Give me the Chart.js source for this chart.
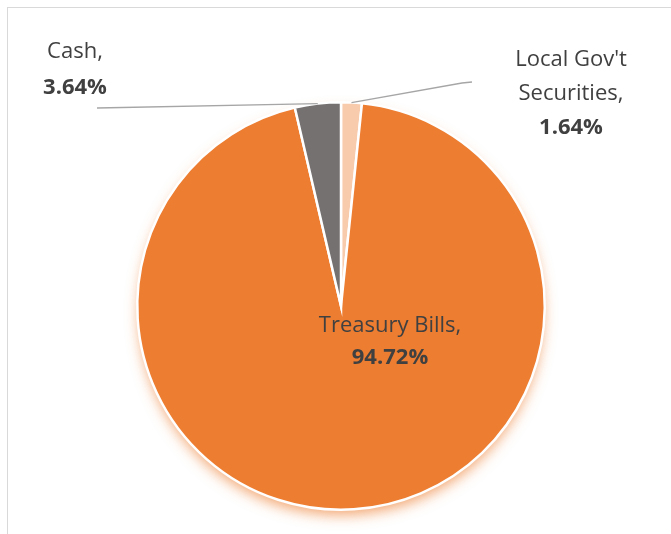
<!DOCTYPE html>
<html><head><meta charset="utf-8">
<script src="https://cdn.jsdelivr.net/npm/chart.js@4/dist/chart.umd.min.js"></script>
<style>
html,body{margin:0;padding:0;background:#fff;}
#wrap{position:relative;width:671px;height:534px;}
#frame{position:absolute;left:7px;top:7px;width:700px;height:600px;border:1px solid #D9D9D9;box-sizing:border-box;}
canvas{position:absolute;left:0;top:0;}
</style></head>
<body><div id="wrap"><div id="frame"></div><canvas id="c" width="671" height="534"></canvas></div>
<script>
const categories = ["Local Gov't Securities", "Treasury Bills", "Cash"];
const labelLines = [["Local Gov't", "Securities,"], ["Treasury Bills,"], ["Cash,"]];
const percentLabels = ["1.64%", "94.72%", "3.64%"];
const values = [1.64, 94.72, 3.64];
const colors = ["#F8CBAD", "#ED7D31", "#767171"];

const FONT = "'Open Sans', 'Noto Sans', sans-serif";
const TEXT = "#404040";

const shadowPlugin = {
  id: 'shadow',
  beforeDatasetsDraw(chart) {
    const arc = chart.getDatasetMeta(0).data[0];
    const ctx = chart.ctx;
    ctx.save();
    ctx.beginPath();
    ctx.arc(arc.x, arc.y, arc.outerRadius - 2, 0, Math.PI * 2);
    ctx.fillStyle = 'rgba(237,125,49,1)';
    ctx.shadowColor = 'rgba(237,125,49,0.7)';
    ctx.shadowBlur = 14;
    ctx.shadowOffsetY = 7;
    ctx.fill();
    ctx.restore();
  }
};

const labelLayout = [
  {x: 571, y: 60, step: 34, line: [[462, 83], [472, 82]]},
  {x: 390, y: 326, step: 32},
  {x: 75, y: 52, step: 36, line: [[97, 108]]}
];

const labelPlugin = {
  id: 'labels',
  afterDatasetsDraw(chart) {
    const ctx = chart.ctx;
    const meta = chart.getDatasetMeta(0);
    ctx.save();
    meta.data.forEach((arc, i) => {
      const L = labelLayout[i];
      const mid = (arc.startAngle + arc.endAngle) / 2;
      const ax = arc.x + Math.cos(mid) * arc.outerRadius;
      const ay = arc.y + Math.sin(mid) * arc.outerRadius;
      if (L.line) {
        ctx.strokeStyle = '#A6A6A6';
        ctx.lineWidth = 1.3;
        ctx.beginPath();
        ctx.moveTo(ax, ay);
        L.line.forEach(p => ctx.lineTo(p[0], p[1]));
        ctx.stroke();
      }
      ctx.fillStyle = TEXT;
      ctx.textAlign = 'center';
      ctx.textBaseline = 'middle';
      let y = L.y;
      ctx.font = "22px " + FONT;
      labelLines[i].forEach(t => { ctx.fillText(t, L.x, y); y += L.step; });
      ctx.font = "bold 22px " + FONT;
      ctx.fillText(percentLabels[i], L.x, y);
    });
    ctx.restore();
  }
};

new Chart(document.getElementById('c'), {
  type: 'pie',
  data: {
    labels: categories,
    datasets: [{
      data: values,
      backgroundColor: colors,
      borderColor: '#FFFFFF',
      borderWidth: 2.5,
      borderJoinStyle: 'miter'
    }]
  },
  options: {
    responsive: false,
    animation: false,
    devicePixelRatio: 1,
    layout: { padding: { left: 136, right: 125, top: 101, bottom: 23 } },
    plugins: { legend: { display: false }, tooltip: { enabled: false } }
  },
  plugins: [shadowPlugin, labelPlugin]
});
</script></body></html>
